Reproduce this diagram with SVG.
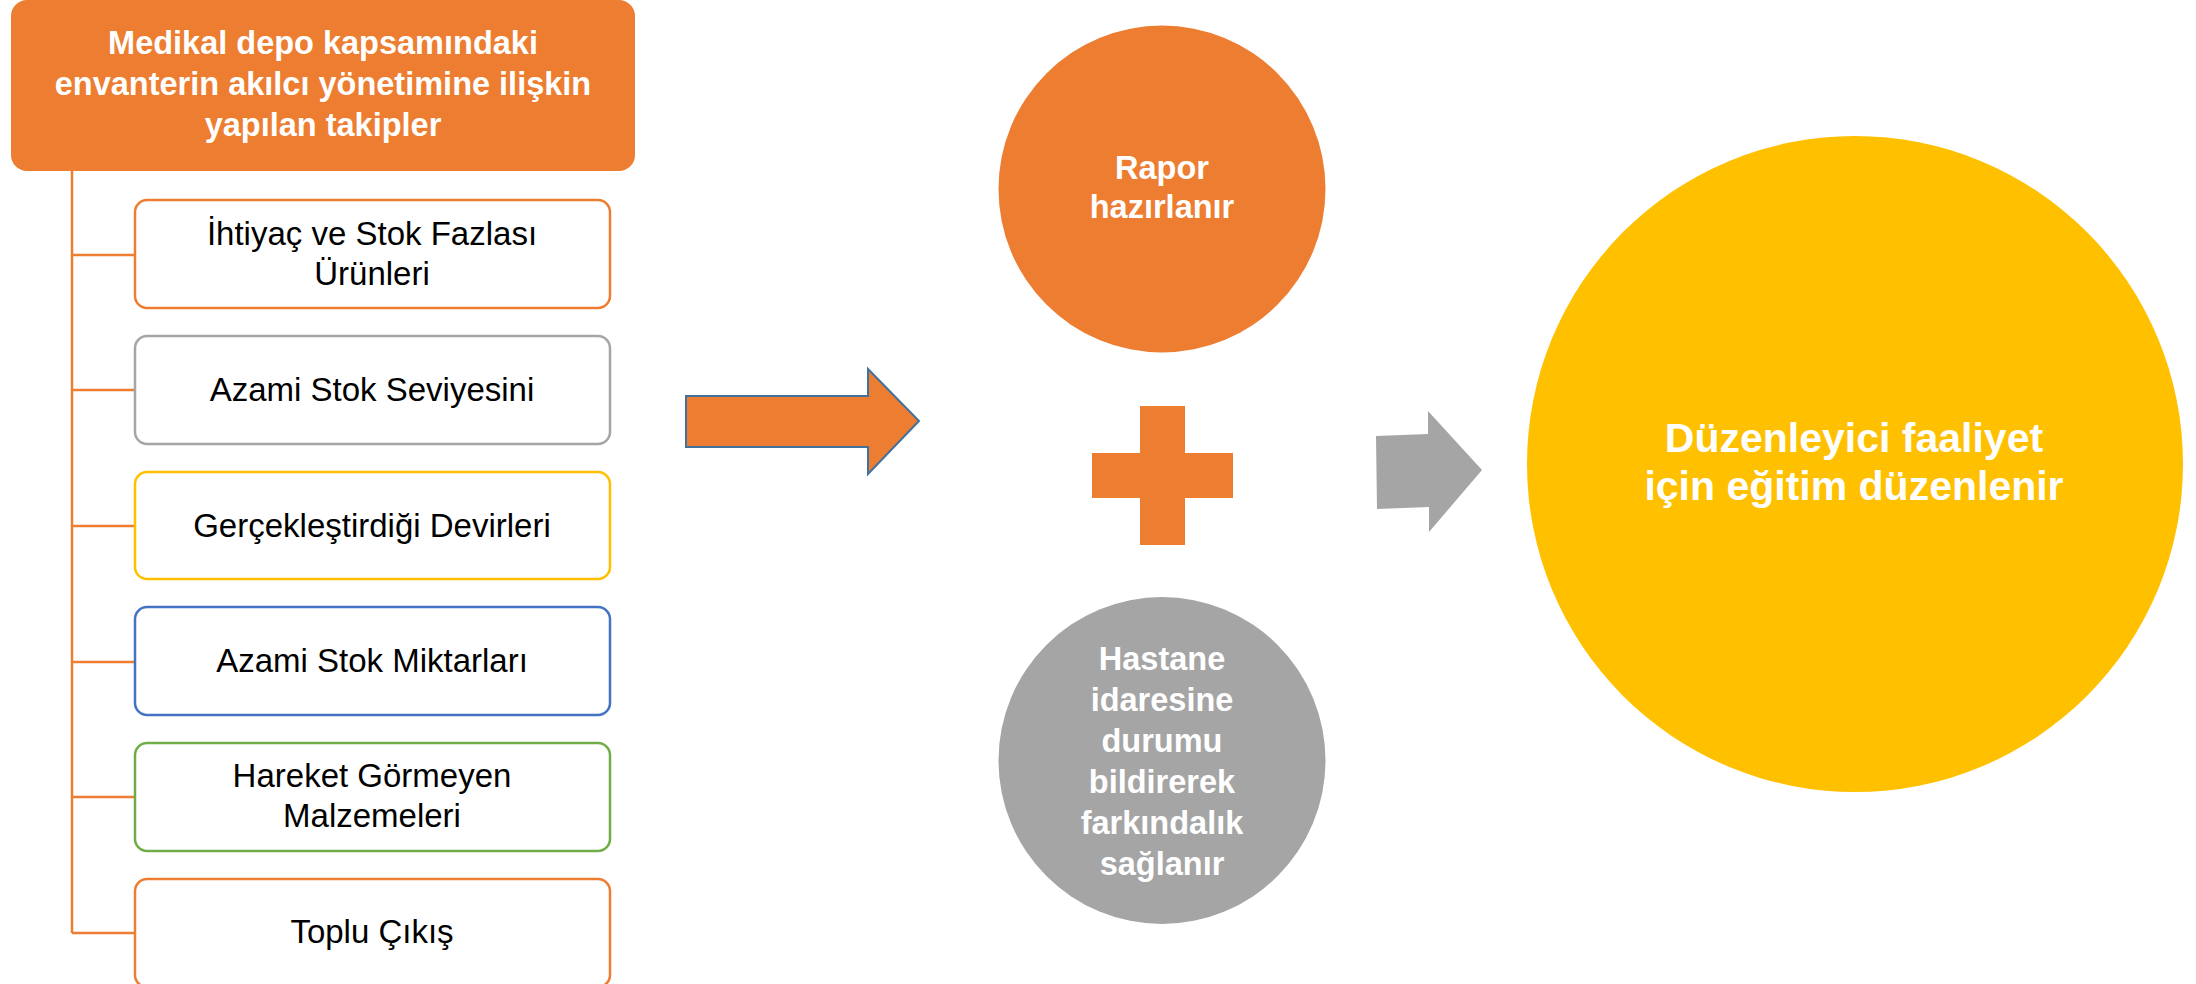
<svg xmlns="http://www.w3.org/2000/svg" width="2196" height="984" viewBox="0 0 2196 984">
<style>
.hdr{fill:#ED7D31}
.box{fill:#FFFFFF;stroke-width:2.5}
.t{font-family:"Liberation Sans",Arial,sans-serif;font-size:33px;fill:#000000;text-anchor:middle}
.w{font-family:"Liberation Sans",Arial,sans-serif;font-weight:bold;fill:#FFFFFF;text-anchor:middle}
.conn{stroke:#ED7D31;stroke-width:2.5;fill:none}
</style>
<rect x="0" y="0" width="2196" height="984" fill="#FFFFFF"/>
<g id="connectors">
<path class="conn" d="M72 171 V933"/>
<path class="conn" d="M72 255 H135 M72 390 H135 M72 526 H135 M72 662 H135 M72 797 H135 M72 933 H135"/>
</g>
<g id="header">
<rect class="hdr" x="11" y="0" width="624" height="171" rx="16"/>
<text class="w" font-size="32.5" x="323" y="54">Medikal depo kapsamındaki</text>
<text class="w" font-size="32.5" x="323" y="95">envanterin akılcı yönetimine ilişkin</text>
<text class="w" font-size="32.5" x="323" y="136">yapılan takipler</text>
</g>
<g id="box1">
<rect class="box" x="135" y="200" width="475" height="108" rx="12" stroke="#ED7D31"/>
<text class="t" x="372" y="245">İhtiyaç ve Stok Fazlası</text>
<text class="t" x="372" y="285">Ürünleri</text>
</g>
<g id="box2">
<rect class="box" x="135" y="336" width="475" height="108" rx="12" stroke="#A5A5A5"/>
<text class="t" x="372" y="401">Azami Stok Seviyesini</text>
</g>
<g id="box3">
<rect class="box" x="135" y="472" width="475" height="107" rx="12" stroke="#FFC000"/>
<text class="t" x="372" y="537">Gerçekleştirdiği Devirleri</text>
</g>
<g id="box4">
<rect class="box" x="135" y="607" width="475" height="108" rx="12" stroke="#4472C4"/>
<text class="t" x="372" y="672">Azami Stok Miktarları</text>
</g>
<g id="box5">
<rect class="box" x="135" y="743" width="475" height="108" rx="12" stroke="#70AD47"/>
<text class="t" x="372" y="787">Hareket Görmeyen</text>
<text class="t" x="372" y="827">Malzemeleri</text>
</g>
<g id="box6">
<rect class="box" x="135" y="879" width="475" height="108" rx="12" stroke="#ED7D31"/>
<text class="t" x="372" y="943">Toplu Çıkış</text>
</g>
<g id="arrow1">
<polygon points="686,396 868,396 868,369 919,421 868,474 868,447 686,447" fill="#ED7D31" stroke="#41719C" stroke-width="2"/>
</g>
<g id="rapor">
<circle cx="1162" cy="189" r="163.5" fill="#ED7D31"/>
<text class="w" font-size="32.5" x="1162" y="179">Rapor</text>
<text class="w" font-size="32.5" x="1162" y="218">hazırlanır</text>
</g>
<g id="plus">
<path d="M1140 406 H1185 V453 H1233 V498 H1185 V545 H1140 V498 H1092 V453 H1140 Z" fill="#ED7D31"/>
</g>
<g id="hastane">
<circle cx="1162" cy="760.5" r="163.5" fill="#A5A5A5"/>
<text class="w" font-size="32.5" x="1162" y="670">Hastane</text>
<text class="w" font-size="32.5" x="1162" y="711">idaresine</text>
<text class="w" font-size="32.5" x="1162" y="752">durumu</text>
<text class="w" font-size="32.5" x="1162" y="793">bildirerek</text>
<text class="w" font-size="32.5" x="1162" y="834">farkındalık</text>
<text class="w" font-size="32.5" x="1162" y="875">sağlanır</text>
</g>
<g id="arrow2">
<polygon points="1376,436 1428,434 1428,411 1482,470 1429,532 1429,507 1377,509" fill="#A5A5A5"/>
</g>
<g id="egitim">
<circle cx="1855" cy="464" r="328" fill="#FFC000"/>
<text class="w" font-size="41" x="1854" y="452">Düzenleyici faaliyet</text>
<text class="w" font-size="41" x="1854" y="500">için eğitim düzenlenir</text>
</g>
</svg>
